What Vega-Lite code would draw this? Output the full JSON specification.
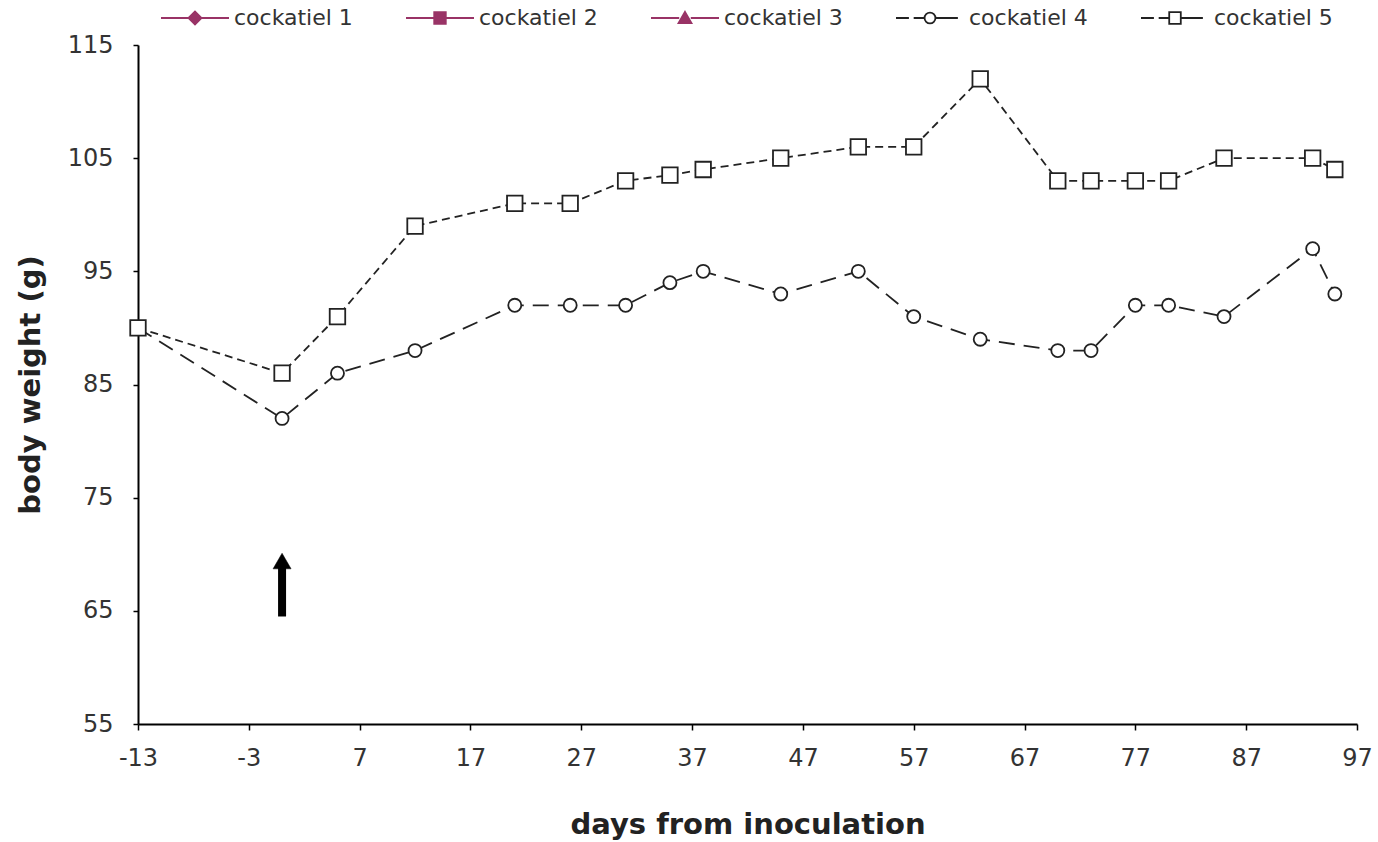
{
  "$schema": "https://vega.github.io/schema/vega-lite/v6.json",
  "width": 1219,
  "height": 679,
  "autosize": {"type": "none"},
  "padding": {"left": 138, "top": 45, "right": 21, "bottom": 118},
  "background": "white",
  "config": {
    "view": {"stroke": null},
    "font": "DejaVu Sans",
    "axis": {
      "grid": false,
      "domainColor": "#000",
      "domainWidth": 2,
      "tickColor": "#000",
      "tickWidth": 1.5,
      "labelFont": "DejaVu Sans",
      "labelFontSize": 24,
      "labelColor": "#333",
      "titleFont": "DejaVu Sans",
      "titleFontSize": 29,
      "titleFontWeight": "bold",
      "titleColor": "#222"
    }
  },
  "datasets": {
    "weights": [
      {"series": "cockatiel 4", "day": -13, "weight": 90},
      {"series": "cockatiel 4", "day": 0, "weight": 82},
      {"series": "cockatiel 4", "day": 5, "weight": 86},
      {"series": "cockatiel 4", "day": 12, "weight": 88},
      {"series": "cockatiel 4", "day": 21, "weight": 92},
      {"series": "cockatiel 4", "day": 26, "weight": 92},
      {"series": "cockatiel 4", "day": 31, "weight": 92},
      {"series": "cockatiel 4", "day": 35, "weight": 94},
      {"series": "cockatiel 4", "day": 38, "weight": 95},
      {"series": "cockatiel 4", "day": 45, "weight": 93},
      {"series": "cockatiel 4", "day": 52, "weight": 95},
      {"series": "cockatiel 4", "day": 57, "weight": 91},
      {"series": "cockatiel 4", "day": 63, "weight": 89},
      {"series": "cockatiel 4", "day": 70, "weight": 88},
      {"series": "cockatiel 4", "day": 73, "weight": 88},
      {"series": "cockatiel 4", "day": 77, "weight": 92},
      {"series": "cockatiel 4", "day": 80, "weight": 92},
      {"series": "cockatiel 4", "day": 85, "weight": 91},
      {"series": "cockatiel 4", "day": 93, "weight": 97},
      {"series": "cockatiel 4", "day": 95, "weight": 93},
      {"series": "cockatiel 5", "day": -13, "weight": 90},
      {"series": "cockatiel 5", "day": 0, "weight": 86},
      {"series": "cockatiel 5", "day": 5, "weight": 91},
      {"series": "cockatiel 5", "day": 12, "weight": 99},
      {"series": "cockatiel 5", "day": 21, "weight": 101},
      {"series": "cockatiel 5", "day": 26, "weight": 101},
      {"series": "cockatiel 5", "day": 31, "weight": 103},
      {"series": "cockatiel 5", "day": 35, "weight": 103.5},
      {"series": "cockatiel 5", "day": 38, "weight": 104},
      {"series": "cockatiel 5", "day": 45, "weight": 105},
      {"series": "cockatiel 5", "day": 52, "weight": 106},
      {"series": "cockatiel 5", "day": 57, "weight": 106},
      {"series": "cockatiel 5", "day": 63, "weight": 112},
      {"series": "cockatiel 5", "day": 70, "weight": 103},
      {"series": "cockatiel 5", "day": 73, "weight": 103},
      {"series": "cockatiel 5", "day": 77, "weight": 103},
      {"series": "cockatiel 5", "day": 80, "weight": 103},
      {"series": "cockatiel 5", "day": 85, "weight": 105},
      {"series": "cockatiel 5", "day": 93, "weight": 105},
      {"series": "cockatiel 5", "day": 95, "weight": 104}
    ],
    "arrow": [
      {"day": 0, "start": 64.5, "end": 68.8, "tip": 69.4}
    ],
    "legendSeries": [
      {"series": "cockatiel 1"},
      {"series": "cockatiel 2"},
      {"series": "cockatiel 3"},
      {"series": "cockatiel 4"},
      {"series": "cockatiel 5"}
    ]
  },
  "layer": [
    {
      "data": {"name": "weights"},
      "mark": {"type": "line", "stroke": "#222", "strokeWidth": 1.8},
      "encoding": {
        "x": {
          "field": "day", "type": "quantitative",
          "scale": {"domain": [-13, 97], "nice": false, "zero": false},
          "axis": {
            "values": [-13, -3, 7, 17, 27, 37, 47, 57, 67, 77, 87, 97],
            "labelExpr": "toString(datum.value)",
            "labelFlush": false,
            "labelOverlap": false,
            "tickSize": 6,
            "labelPadding": 16,
            "title": "days from inoculation",
            "titleBaseline": "alphabetic",
            "titleY": 109
          }
        },
        "y": {
          "field": "weight", "type": "quantitative",
          "scale": {"domain": [55, 115], "nice": false, "zero": false},
          "axis": {
            "values": [55, 65, 75, 85, 95, 105, 115],
            "labelExpr": "toString(datum.value)",
            "labelFlush": false,
            "tickSize": 5,
            "labelPadding": 20,
            "title": "body weight (g)",
            "titleBaseline": "alphabetic",
            "titleX": -99,
            "titleY": 339.5
          }
        },
        "detail": {"field": "series"},
        "strokeDash": {
          "field": "series", "type": "nominal",
          "scale": {"domain": ["cockatiel 4", "cockatiel 5"], "range": [[16, 9], [8, 5]]},
          "legend": null
        }
      }
    },
    {
      "data": {"name": "weights"},
      "transform": [{"filter": "datum.series === 'cockatiel 4'"}],
      "mark": {"type": "point", "shape": "circle", "size": 170, "filled": true, "fill": "white", "stroke": "#222", "strokeWidth": 1.8, "opacity": 1},
      "encoding": {
        "x": {"field": "day", "type": "quantitative"},
        "y": {"field": "weight", "type": "quantitative"}
      }
    },
    {
      "data": {"name": "weights"},
      "transform": [{"filter": "datum.series === 'cockatiel 5'"}],
      "mark": {"type": "point", "shape": "square", "size": 240, "filled": true, "fill": "white", "stroke": "#222", "strokeWidth": 1.8, "opacity": 1},
      "encoding": {
        "x": {"field": "day", "type": "quantitative"},
        "y": {"field": "weight", "type": "quantitative"}
      }
    },
    {
      "data": {"name": "arrow"},
      "mark": {"type": "rule", "stroke": "#000", "strokeWidth": 8},
      "encoding": {
        "x": {"field": "day", "type": "quantitative"},
        "y": {"field": "start", "type": "quantitative"},
        "y2": {"field": "end"}
      }
    },
    {
      "data": {"name": "arrow"},
      "mark": {"type": "point", "shape": "triangle-up", "size": 324, "filled": true, "fill": "#000", "stroke": "#000", "strokeWidth": 0.5, "opacity": 1},
      "encoding": {
        "x": {"field": "day", "type": "quantitative"},
        "y": {"field": "tip", "type": "quantitative"}
      }
    },
    {
      "data": {"name": "legendSeries"},
      "transform": [{"filter": "false"}],
      "mark": {"type": "point", "strokeWidth": 1.8, "opacity": 1},
      "encoding": {
        "shape": {
          "field": "series", "type": "nominal",
          "scale": {
            "domain": ["cockatiel 1", "cockatiel 2", "cockatiel 3", "cockatiel 4", "cockatiel 5"],
            "range": [
              "M-1,0H-0.19M0.19,0H1M-0.19,0L0,-0.19L0.19,0L0,0.19Z",
              "M-1,0H-0.17M0.17,0H1M-0.17,-0.17H0.17V0.17H-0.17Z",
              "M-1,0H-0.17M0.17,0H1M0,-0.18L0.19,0.15L-0.19,0.15Z",
              "M-1,0H-0.62M-0.48,0H-0.16M0.16,0H0.82M0.16,0A0.16,0.16 0 1,1 -0.16,0A0.16,0.16 0 1,1 0.16,0Z",
              "M-1,0H-0.62M-0.48,0H-0.17M0.17,0H0.82M-0.17,-0.17H0.17V0.17H-0.17Z"
            ]
          },
          "legend": {
            "orient": "none",
            "legendX": 22,
            "legendY": -62,
            "direction": "horizontal",
            "columns": 5,
            "title": null,
            "padding": 0,
            "symbolSize": 4624,
            "symbolStrokeWidth": 1.8,
            "labelFont": "DejaVu Sans",
            "labelFontSize": 22,
            "labelColor": "#333",
            "labelOffset": 4,
            "columnPadding": 49,
            "symbolOpacity": 1
          }
        },
        "stroke": {
          "field": "series", "type": "nominal",
          "scale": {
            "domain": ["cockatiel 1", "cockatiel 2", "cockatiel 3", "cockatiel 4", "cockatiel 5"],
            "range": ["#993366", "#993366", "#993366", "#222222", "#222222"]
          }
        },
        "fill": {
          "field": "series", "type": "nominal",
          "scale": {
            "domain": ["cockatiel 1", "cockatiel 2", "cockatiel 3", "cockatiel 4", "cockatiel 5"],
            "range": ["#993366", "#993366", "#993366", "#ffffff", "#ffffff"]
          }
        }
      }
    }
  ]
}
